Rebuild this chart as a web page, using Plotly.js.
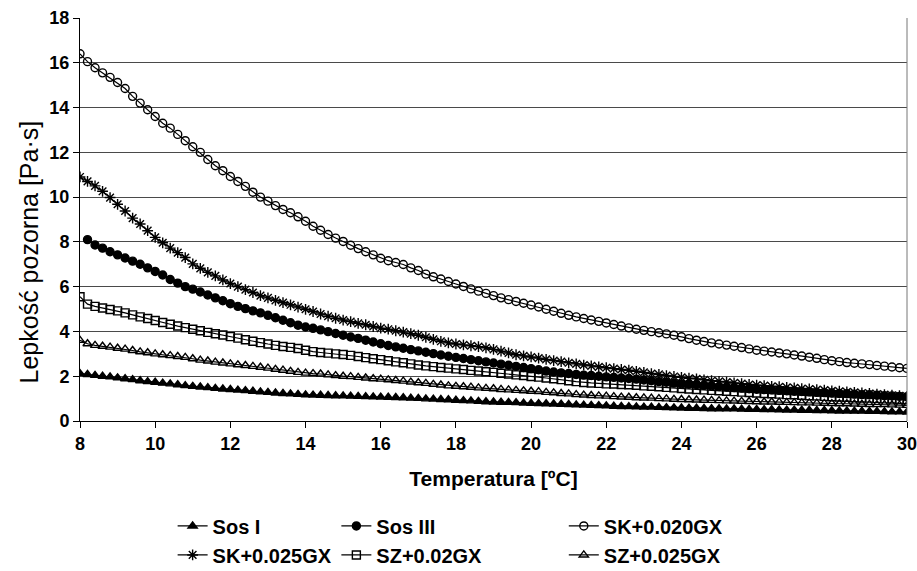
<!DOCTYPE html>
<html>
<head>
<meta charset="utf-8">
<script src="https://cdn.plot.ly/plotly-3.0.1.min.js"></script>
<style>html,body{margin:0;padding:0;background:#fff;}#chart{width:917px;height:571px;}</style>
</head>
<body>
<div id="chart"></div>
<script>
var temperature = [8.0,8.2,8.4,8.6,8.8,9.0,9.2,9.4,9.6,9.8,10.0,10.2,10.4,10.6,10.8,11.0,11.2,11.4,11.6,11.8,12.0,12.2,12.4,12.6,12.8,13.0,13.2,13.4,13.6,13.8,14.0,14.2,14.4,14.6,14.8,15.0,15.2,15.4,15.6,15.8,16.0,16.2,16.4,16.6,16.8,17.0,17.2,17.4,17.6,17.8,18.0,18.2,18.4,18.6,18.8,19.0,19.2,19.4,19.6,19.8,20.0,20.2,20.4,20.6,20.8,21.0,21.2,21.4,21.6,21.8,22.0,22.2,22.4,22.6,22.8,23.0,23.2,23.4,23.6,23.8,24.0,24.2,24.4,24.6,24.8,25.0,25.2,25.4,25.6,25.8,26.0,26.2,26.4,26.6,26.8,27.0,27.2,27.4,27.6,27.8,28.0,28.2,28.4,28.6,28.8,29.0,29.2,29.4,29.6,29.8,30.0];

var sosI = [2.12,2.08,2.04,2.00,1.97,1.93,1.89,1.85,1.80,1.76,1.73,1.69,1.66,1.62,1.58,1.55,1.52,1.49,1.46,1.43,1.41,1.38,1.36,1.33,1.30,1.28,1.25,1.23,1.21,1.19,1.17,1.16,1.15,1.14,1.13,1.12,1.11,1.10,1.09,1.08,1.07,1.06,1.05,1.04,1.02,1.01,0.99,0.98,0.96,0.95,0.93,0.91,0.90,0.88,0.86,0.85,0.84,0.83,0.82,0.80,0.79,0.78,0.77,0.76,0.75,0.74,0.72,0.71,0.70,0.69,0.68,0.66,0.65,0.64,0.63,0.62,0.62,0.61,0.60,0.59,0.58,0.57,0.57,0.56,0.55,0.55,0.54,0.54,0.53,0.52,0.52,0.51,0.51,0.50,0.49,0.49,0.48,0.48,0.47,0.47,0.46,0.45,0.45,0.44,0.44,0.43,0.43,0.42,0.41,0.41,0.40];

var sosIII = [null,8.10,7.86,7.72,7.56,7.42,7.28,7.14,7.00,6.84,6.68,6.52,6.32,6.16,6.00,5.89,5.76,5.63,5.50,5.37,5.24,5.12,5.02,4.92,4.83,4.72,4.61,4.50,4.39,4.28,4.20,4.14,4.07,3.99,3.91,3.83,3.75,3.69,3.61,3.53,3.45,3.37,3.31,3.25,3.19,3.13,3.07,3.01,2.95,2.89,2.84,2.79,2.74,2.69,2.64,2.59,2.54,2.49,2.44,2.39,2.34,2.29,2.23,2.19,2.15,2.12,2.08,2.05,2.03,2.00,1.97,1.95,1.92,1.90,1.87,1.83,1.80,1.76,1.73,1.69,1.66,1.64,1.62,1.59,1.57,1.54,1.52,1.49,1.47,1.44,1.42,1.40,1.39,1.37,1.35,1.33,1.32,1.30,1.28,1.27,1.25,1.23,1.22,1.20,1.18,1.17,1.15,1.13,1.12,1.10,1.08];

var sk020 = [16.40,16.05,15.78,15.55,15.35,15.12,14.85,14.50,14.20,13.90,13.60,13.30,13.08,12.80,12.52,12.25,12.00,11.68,11.40,11.18,10.92,10.70,10.48,10.22,10.00,9.82,9.62,9.45,9.30,9.12,8.92,8.70,8.52,8.33,8.17,8.02,7.85,7.70,7.56,7.42,7.27,7.16,7.08,6.99,6.84,6.72,6.56,6.44,6.34,6.23,6.12,6.01,5.90,5.80,5.70,5.60,5.50,5.42,5.34,5.26,5.18,5.09,4.99,4.90,4.81,4.72,4.65,4.58,4.51,4.45,4.38,4.31,4.24,4.16,4.10,4.05,3.99,3.94,3.89,3.83,3.76,3.68,3.61,3.55,3.49,3.44,3.39,3.34,3.28,3.22,3.16,3.12,3.08,3.04,3.00,2.95,2.90,2.85,2.80,2.74,2.69,2.65,2.61,2.58,2.55,2.52,2.48,2.45,2.41,2.38,2.35];

var sk025 = [10.90,10.70,10.50,10.26,9.98,9.68,9.38,9.06,8.80,8.50,8.20,7.96,7.72,7.52,7.30,7.02,6.82,6.64,6.48,6.30,6.14,6.00,5.87,5.74,5.60,5.50,5.39,5.29,5.19,5.09,4.99,4.89,4.78,4.68,4.59,4.51,4.44,4.36,4.30,4.22,4.15,4.10,4.03,3.97,3.90,3.83,3.74,3.65,3.56,3.49,3.44,3.40,3.36,3.32,3.27,3.20,3.12,3.04,2.96,2.91,2.86,2.81,2.75,2.70,2.65,2.60,2.55,2.50,2.46,2.42,2.38,2.34,2.30,2.27,2.22,2.17,2.12,2.08,2.03,1.99,1.95,1.91,1.88,1.84,1.80,1.77,1.74,1.70,1.67,1.63,1.60,1.58,1.55,1.53,1.50,1.48,1.45,1.43,1.40,1.38,1.35,1.33,1.30,1.28,1.25,1.23,1.20,1.18,1.15,1.13,1.10];

var sz02 = [5.55,5.22,5.12,5.05,4.98,4.92,4.83,4.74,4.65,4.58,4.49,4.40,4.32,4.24,4.17,4.10,4.03,3.96,3.90,3.84,3.77,3.70,3.63,3.56,3.50,3.44,3.38,3.33,3.29,3.24,3.16,3.10,3.06,3.03,3.00,2.97,2.93,2.88,2.83,2.78,2.74,2.69,2.64,2.60,2.55,2.50,2.46,2.43,2.39,2.36,2.33,2.30,2.26,2.23,2.20,2.17,2.13,2.10,2.06,2.03,1.99,1.96,1.92,1.89,1.85,1.80,1.76,1.72,1.70,1.68,1.66,1.65,1.63,1.62,1.60,1.57,1.55,1.53,1.50,1.48,1.45,1.43,1.41,1.39,1.37,1.35,1.33,1.31,1.29,1.27,1.25,1.23,1.22,1.20,1.18,1.17,1.15,1.13,1.12,1.10,1.08,1.07,1.06,1.04,1.03,1.02,1.00,0.99,0.98,0.96,0.95];

var sz025 = [3.60,3.45,3.38,3.34,3.30,3.25,3.21,3.15,3.09,3.05,3.00,2.96,2.92,2.88,2.84,2.78,2.72,2.68,2.63,2.59,2.55,2.51,2.48,2.44,2.40,2.36,2.31,2.27,2.22,2.17,2.14,2.12,2.10,2.06,2.03,2.00,1.98,1.95,1.92,1.89,1.87,1.84,1.81,1.78,1.74,1.71,1.68,1.64,1.61,1.57,1.55,1.53,1.51,1.48,1.46,1.44,1.41,1.39,1.37,1.35,1.33,1.31,1.28,1.26,1.23,1.21,1.18,1.16,1.14,1.12,1.11,1.09,1.07,1.06,1.04,1.03,1.02,1.00,0.99,0.97,0.96,0.95,0.94,0.93,0.92,0.91,0.90,0.89,0.88,0.87,0.86,0.85,0.85,0.84,0.83,0.82,0.81,0.81,0.80,0.79,0.78,0.77,0.77,0.76,0.75,0.74,0.73,0.73,0.72,0.71,0.70];

var seriesNames = ['Sos I','Sos III','SK+0.020GX','SK+0.025GX','SZ+0.02GX','SZ+0.025GX'];
var xTicks = [8,10,12,14,16,18,20,22,24,26,28,30];
var yTicks = [0,2,4,6,8,10,12,14,16,18];

var FONT = '"Liberation Sans", Arial, sans-serif';
function mk(y, name, symbol, size, legend) {
  return {
    x: temperature, y: y, name: name, type: 'scatter', mode: 'lines+markers',
    line: {color: '#000', width: 1.2},
    marker: {symbol: symbol, size: size, color: '#000', line: {color: '#000', width: 1.4}},
    legend: legend, legendgroup: name, connectgaps: false
  };
}
var data = [
  mk(sosI, seriesNames[0], 'triangle-up', 8, 'legend'),
  mk(sosIII, seriesNames[1], 'circle', 8, 'legend2'),
  mk(sk020, seriesNames[2], 'circle-open', 8, 'legend3'),
  mk(sk025, seriesNames[3], 'asterisk-open', 9, 'legend'),
  mk(sz02, seriesNames[4], 'square-open', 8, 'legend2'),
  mk(sz025, seriesNames[5], 'triangle-up-open', 8, 'legend3')
];

var legBase = {
  orientation: 'v', yanchor: 'top', xanchor: 'left', y: -0.212,
  font: {family: FONT, size: 20, color: '#000', weight: 'bold'},
  bgcolor: 'rgba(0,0,0,0)', borderwidth: 0, tracegroupgap: 0, itemsizing: 'trace'
};
function leg(x) { var o = Object.assign({}, legBase); o.x = x; return o; }

var layout = {
  width: 917, height: 571,
  margin: {l: 80, r: 10, t: 18, b: 150, autoexpand: false},
  paper_bgcolor: '#fff', plot_bgcolor: '#fff',
  font: {family: FONT, color: '#000'},
  showlegend: true,
  legend: leg(0.112),
  legend2: leg(0.31),
  legend3: leg(0.585),
  xaxis: {
    range: [8, 30], tickvals: xTicks, ticktext: xTicks.map(String),
    showgrid: false, zeroline: false, showline: true, linecolor: '#000', linewidth: 1,
    ticks: 'outside', ticklen: 6, tickcolor: '#000', ticklabeloverflow: 'allow',
    tickfont: {family: FONT, size: 18, color: '#000', weight: 'bold'},
    title: {text: 'Temperatura [ºC]', font: {family: FONT, size: 21, color: '#000', weight: 'bold'}, standoff: 18}
  },
  yaxis: {
    range: [0, 18], tickvals: yTicks, ticktext: yTicks.map(String),
    showgrid: true, gridcolor: '#4a4a4a', gridwidth: 1, zeroline: false,
    showline: true, linecolor: '#000', linewidth: 1,
    ticks: 'outside', ticklen: 6, tickcolor: '#000',
    tickfont: {family: FONT, size: 18, color: '#000', weight: 'bold'}
  },
  shapes: [
    {type: 'line', xref: 'paper', yref: 'paper', x0: 1, x1: 1, y0: 0, y1: 1, line: {color: '#777', width: 1}}
  ],
  annotations: [
    {text: 'Lepkość pozorna [Pa·s]', xref: 'paper', yref: 'paper', x: -0.062, y: 0.42,
     textangle: -90, showarrow: false, xanchor: 'center', yanchor: 'middle',
     font: {family: FONT, size: 25, color: '#000'}}
  ]
};

Plotly.newPlot('chart', data, layout, {displayModeBar: false, staticPlot: true});
</script>
</body>
</html>
